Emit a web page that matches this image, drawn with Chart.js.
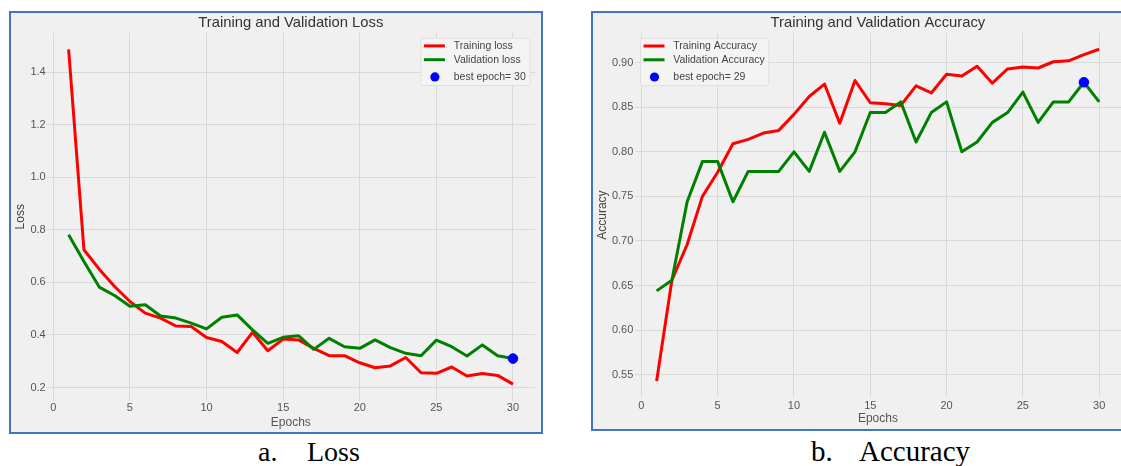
<!DOCTYPE html>
<html><head><meta charset="utf-8">
<script src="https://cdn.jsdelivr.net/npm/chart.js@4"></script>
<style>
html,body{margin:0;padding:0;background:#fff;overflow:hidden;width:1121px;height:466px;}
#root{position:absolute;left:0;top:0;width:1121px;height:466px;overflow:hidden;background:#fff;}
.frame{position:absolute;border:2px solid #4472c4;background:#f0f0f0;box-sizing:border-box;}
#f1{left:9px;top:11px;width:534px;height:423px;}
#f2{left:591px;top:11px;width:530px;height:420px;border-right:none;}
.cv{position:absolute;}
#w1{left:11px;top:13px;width:530px;height:418px;}
#w2{left:593px;top:13px;width:528px;height:415px;overflow:hidden;}
.cap{position:absolute;font-family:"Liberation Serif","Times New Roman",serif;color:#000;white-space:pre;line-height:28px;}
</style></head>
<body>
<div id="root">
<div class="frame" id="f1"></div>
<div class="frame" id="f2"></div>
<div class="cv" id="w1"><canvas id="c1" width="530" height="418"></canvas></div>
<div class="cv" id="w2"><canvas id="c2" width="540" height="415"></canvas></div>
<div class="cap" style="left:258px;top:438px;font-size:28px;">a.</div>
<div class="cap" style="left:307px;top:438px;font-size:28px;">Loss</div>
<div class="cap" style="left:811px;top:437px;font-size:29px;">b.</div>
<div class="cap" style="left:859px;top:437px;font-size:29px;">Accuracy</div>
</div>
<script>
// ---- data ----
const epochs = [1,2,3,4,5,6,7,8,9,10,11,12,13,14,15,16,17,18,19,20,21,22,23,24,25,26,27,28,29,30];
const trainLoss = [1.486,0.724,0.650,0.584,0.527,0.483,0.464,0.434,0.432,0.390,0.375,0.333,0.410,0.340,0.384,0.381,0.349,0.321,0.321,0.294,0.275,0.282,0.314,0.256,0.254,0.278,0.244,0.253,0.246,0.213];
const valLoss = [0.781,0.679,0.582,0.550,0.509,0.515,0.472,0.464,0.445,0.423,0.467,0.476,0.419,0.368,0.391,0.397,0.345,0.387,0.355,0.349,0.381,0.352,0.330,0.321,0.380,0.355,0.320,0.362,0.321,0.310];
const trainAcc = [0.543,0.656,0.696,0.750,0.777,0.809,0.814,0.821,0.824,0.842,0.862,0.876,0.832,0.880,0.855,0.854,0.852,0.874,0.866,0.887,0.885,0.896,0.877,0.893,0.895,0.894,0.901,0.902,0.909,0.915];
const valAcc = [0.644,0.656,0.744,0.789,0.789,0.744,0.778,0.778,0.778,0.800,0.778,0.822,0.778,0.800,0.844,0.844,0.856,0.811,0.844,0.856,0.800,0.811,0.833,0.844,0.867,0.833,0.856,0.856,0.878,0.856];
const bestLossEpoch = 30, bestLossValue = 0.310;
const bestAccEpoch = 29, bestAccValue = 0.878;
const epochTicks = [0,5,10,15,20,25,30];
const lossTicks = [0.2,0.4,0.6,0.8,1.0,1.2,1.4];
const accTicks = [0.55,0.60,0.65,0.70,0.75,0.80,0.85,0.90];
const lossLabels = ['Training loss','Validation loss','best epoch= ' + bestLossEpoch];
const accLabels = ['Training Accuracy','Validation Accuracy','best epoch= ' + bestAccEpoch];

const FONT = '"Liberation Sans", Arial, sans-serif';

const insideLegend = {
  id: 'insideLegend',
  afterDraw(chart, args, o) {
    const {ctx, chartArea: ca} = chart;
    const x0 = o.anchor === 'right' ? ca.right - o.offX - o.w : ca.left + o.offX;
    const y0 = ca.top + o.offY;
    ctx.save();
    ctx.beginPath();
    ctx.roundRect(x0 + 0.5, y0 + 0.5, o.w, o.h, 2);
    ctx.fillStyle = 'rgba(244,244,244,0.85)';
    ctx.fill();
    ctx.strokeStyle = '#e0e0e0';
    ctx.lineWidth = 1;
    ctx.stroke();
    ctx.font = '10.5px ' + FONT;
    ctx.textBaseline = 'middle';
    ctx.textAlign = 'left';
    const rows = [8.2, 22.0, 39.2];
    o.items.forEach((it, i) => {
      const y = y0 + rows[i];
      if (it.type === 'line') {
        ctx.beginPath();
        ctx.moveTo(x0 + 3.5, y);
        ctx.lineTo(x0 + 24.5, y);
        ctx.strokeStyle = it.color;
        ctx.lineWidth = 3;
        ctx.stroke();
      } else {
        ctx.beginPath();
        ctx.arc(x0 + 14.5, y, 4.6, 0, Math.PI * 2);
        ctx.fillStyle = it.color;
        ctx.fill();
      }
      ctx.fillStyle = '#444';
      ctx.fillText(it.text, x0 + 33.3, y + 0.5);
    });
    ctx.restore();
  }
};

function makeChart(id, cfg) {
  const ds = (arr) => epochs.map((e, i) => ({x: e, y: arr[i]}));
  const lh = (s) => s * 1.2;
  const titleSize = 14.8;
  const titleTop = cfg.titleCY - lh(titleSize) / 2;
  return new Chart(document.getElementById(id), {
    type: 'line',
    data: {
      datasets: [
        {type: 'scatter', label: cfg.labels[2], data: [{x: cfg.bestE, y: cfg.bestV}], backgroundColor: '#0000ff', borderColor: '#0000ff', pointRadius: 4.8, pointHoverRadius: 4.8, order: 0},
        {label: cfg.labels[1], data: ds(cfg.val), borderColor: '#008000', borderWidth: 3, pointRadius: 0, tension: 0, borderJoinStyle: 'round', order: 1},
        {label: cfg.labels[0], data: ds(cfg.train), borderColor: '#ff0000', borderWidth: 3, pointRadius: 0, tension: 0, borderJoinStyle: 'round', order: 2}
      ]
    },
    options: {
      responsive: false,
      animation: false,
      devicePixelRatio: 1,
      layout: {padding: {left: 0, right: cfg.padR, top: 0, bottom: 0}},
      plugins: {
        legend: {display: false},
        tooltip: {enabled: false},
        title: {
          display: true, text: cfg.title, fullSize: false, color: '#333',
          font: {family: FONT, size: titleSize, weight: 'normal'},
          padding: {top: titleTop, bottom: cfg.plotTop - lh(titleSize) - titleTop}
        },
        insideLegend: {
          anchor: cfg.legAnchor, offX: 5.5, offY: 5.1, w: cfg.legW, h: 47.3,
          items: [
            {type: 'line', color: '#ff0000', text: cfg.labels[0]},
            {type: 'line', color: '#008000', text: cfg.labels[1]},
            {type: 'dot', color: '#0000ff', text: cfg.labels[2]}
          ]
        }
      },
      scales: {
        x: {
          type: 'linear', min: -0.45, max: 31.45,
          afterBuildTicks: s => { s.ticks = epochTicks.map(v => ({value: v})); },
          afterFit: s => { s.height = cfg.h - cfg.plotBottom; },
          grid: {color: '#d9d9d9', lineWidth: 1, drawTicks: false},
          border: {display: false},
          ticks: {color: '#555', font: {family: FONT, size: 11}, padding: cfg.xTickPad, maxRotation: 0, callback: v => String(v)},
          title: {display: true, text: 'Epochs', color: '#555', font: {family: FONT, size: 12}, padding: {top: 0, bottom: cfg.xTitlePB}}
        },
        y: {
          type: 'linear', min: cfg.yMin, max: cfg.yMax,
          afterBuildTicks: s => { s.ticks = cfg.yTicks.map(v => ({value: v})); },
          afterFit: s => { s.width = cfg.plotLeft; },
          grid: {color: '#d9d9d9', lineWidth: 1, drawTicks: false},
          border: {display: false},
          ticks: {color: '#555', font: {family: FONT, size: 11}, padding: cfg.yTickPad, callback: v => v.toFixed(cfg.dec)},
          title: {display: true, text: cfg.yTitle, color: '#444', font: {family: FONT, size: 12}, padding: {top: cfg.yTitlePT, bottom: 0}}
        }
      }
    },
    plugins: [insideLegend]
  });
}

makeChart('c1', {
  title: 'Training and Validation Loss', yTitle: 'Loss', labels: lossLabels,
  train: trainLoss, val: valLoss, bestE: bestLossEpoch, bestV: bestLossValue,
  yMin: 0.149, yMax: 1.550, yTicks: lossTicks, dec: 1,
  h: 418, plotLeft: 35.4, plotTop: 19.6, plotBottom: 387.9, padR: 4.5,
  titleCY: 10.3, xTickPad: 0.8, xTitlePB: 1.1, yTitlePT: 2.5, yTickPad: 0.7,
  legAnchor: 'right', legW: 109.3
});
makeChart('c2', {
  title: 'Training and Validation Accuracy', yTitle: 'Accuracy', labels: accLabels,
  train: trainAcc, val: valAcc, bestE: bestAccEpoch, bestV: bestAccValue,
  yMin: 0.5245, yMax: 0.9336, yTicks: accTicks, dec: 2,
  h: 415, plotLeft: 41.5, plotTop: 19.7, plotBottom: 384.4, padR: 11.7,
  titleCY: 10.3, xTickPad: 1.7, xTitlePB: 1.8, yTitlePT: 2.5, yTickPad: 1.2,
  legAnchor: 'left', legW: 128.3
});
</script>
</body></html>
